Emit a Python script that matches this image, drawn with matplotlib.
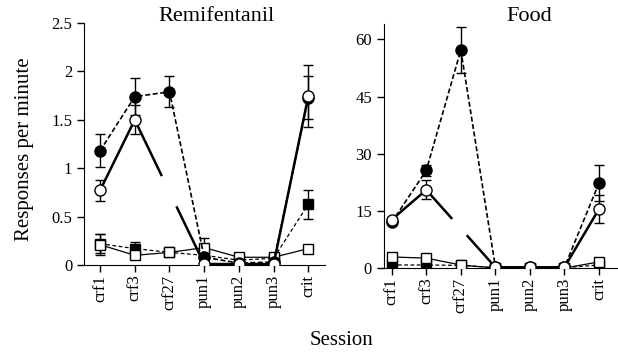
import matplotlib
matplotlib.use('Agg')
import matplotlib.pyplot as plt
import numpy as np

plt.rcParams['font.family'] = ['Liberation Serif', 'DejaVu Serif']

sessions = ['crf1', 'crf3', 'crf27', 'pun1', 'pun2', 'pun3', 'crit']
nan = np.nan

# Remifentanil panel
remi_fc = [1.18, 1.74, 1.79, 0.08, 0.02, 0.03, 1.73]
remi_fc_err = [0.17, 0.19, 0.16, 0, 0, 0, 0.22]
remi_oc = [0.77, 1.50, nan, 0.01, 0.01, 0.01, 1.75]
remi_oc_err = [0.11, 0.15, 0, 0, 0, 0, 0.32]
remi_fs = [0.22, 0.17, 0.13, 0.10, 0.05, 0.07, 0.63]
remi_fs_err = [0.1, 0.07, 0, 0, 0, 0, 0.15]
remi_os = [0.21, 0.10, 0.13, 0.18, 0.08, 0.08, 0.17]
remi_os_err = [0.11, 0, 0, 0.1, 0, 0, 0]

# Food panel
food_fc = [12.0, 25.6, 57.2, 0.3, 0.2, 0.2, 22.3]
food_fc_err = [0.8, 1.5, 6.0, 0, 0, 0, 4.7]
food_oc = [12.7, 20.5, nan, 0.2, 0.2, 0.2, 15.5]
food_oc_err = [0.8, 2.5, 0, 0, 0, 0, 3.7]
food_fs = [0.8, 0.8, 0.7, 0.1, 0.1, 0.1, 0.8]
food_os = [2.9, 2.6, 0.8, 0.0, 0.0, 0.0, 1.6]

fig = plt.figure(figsize=(6.18, 3.55), dpi=100)
ax1 = fig.add_axes([0.136, 0.2535, 0.39, 0.6815])
ax2 = fig.add_axes([0.621, 0.245, 0.379, 0.687])

x = np.arange(len(sessions))


def panel(ax, fc, fce, oc, oce, fs, fse, os_, ose):
    ms = 7
    # open squares, thin solid
    ax.errorbar(x, os_, yerr=ose, color='black', lw=0.9, marker='s', ms=ms,
                mfc='white', mec='black', mew=1.0, capsize=3.5, elinewidth=1,
                zorder=3)
    # filled squares, thin dashed
    ax.errorbar(x, fs, yerr=fse, color='black', lw=0.9, ls=(0, (3, 2)),
                marker='s', ms=ms, mfc='black', mec='black', capsize=3.5,
                elinewidth=1, zorder=2)
    # filled circles, dashed
    ax.errorbar(x, fc, yerr=fce, color='black', lw=1.2, ls=(0, (3, 1.5)),
                marker='o', ms=ms + 1, mfc='black', mec='black', capsize=3.5,
                elinewidth=1, zorder=4)
    # open circles, thick solid
    ax.errorbar(x, oc, yerr=oce, color='black', lw=1.8, marker='o', ms=ms + 1,
                mfc='white', mec='black', mew=1.0, capsize=3.5, elinewidth=1,
                zorder=5)
    # broken line crf3 -> pun1 for open circles
    line, = ax.plot([x[1], x[3]], [oc[1], oc[3]], color='black', lw=1.8,
                    zorder=4.5)
    return line


for ax in (ax1, ax2):
    ax.spines[['top', 'right']].set_visible(False)
    ax.set_xticks(x)
    ax.set_xticklabels(sessions, rotation=90)
    ax.tick_params(axis='both', direction='out', length=5, width=1,
                   labelsize=12)
    ax.tick_params(axis='x', pad=2)
    ax.patch.set_alpha(0)

ax1.set_xlim(-0.46, 6.48)
ax1.set_ylim(0, 2.5)
ax1.set_yticks([0, 0.5, 1, 1.5, 2, 2.5])
ax1.set_yticklabels(['0', '0.5', '1', '1.5', '2', '2.5'])

ax2.set_xlim(-0.23, 6.55)
ax2.set_ylim(0, 64)
ax2.set_yticks([0, 15, 30, 45, 60])

l1 = panel(ax1, remi_fc, remi_fc_err, remi_oc, remi_oc_err, remi_fs,
           remi_fs_err, remi_os, remi_os_err)
l2 = panel(ax2, food_fc, food_fc_err, food_oc, food_oc_err, food_fs,
           None, food_os, None)

# dash pattern of the broken segments, scaled to their drawn length
for ax, line, (on, off) in ((ax1, l1, (0.39, 0.21)), (ax2, l2, (0.375, 0.21))):
    xd, yd = line.get_data()
    p = ax.transData.transform(np.column_stack([xd, yd]))
    L = np.hypot(*(p[1] - p[0])) * 72.0 / fig.dpi / line.get_linewidth()
    line.set_dashes((on * L, off * L, 2 * L, 1))

fig.text(0.35, 0.953, 'Remifentanil', ha='center', va='center', fontsize=16)
fig.text(0.856, 0.953, 'Food', ha='center', va='center', fontsize=16)

fig.text(0.04, 0.58, 'Responses per minute', rotation=90, ha='center',
         va='center', fontsize=15)
fig.text(0.553, 0.04, 'Session', ha='center', va='center', fontsize=15)

fig.savefig('out.png', dpi=100)
